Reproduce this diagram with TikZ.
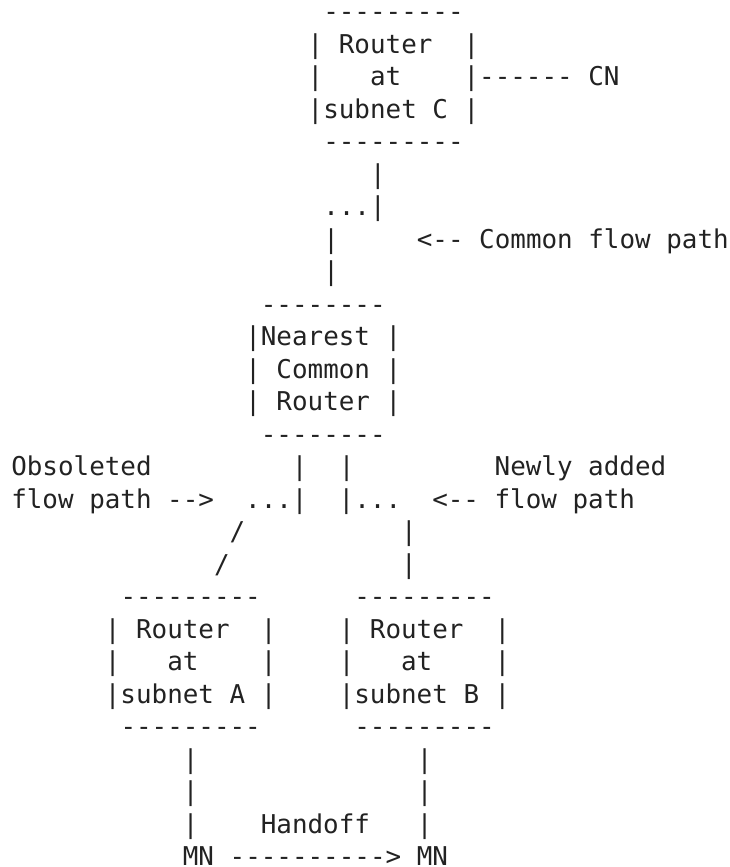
\documentclass[tikz,border=0pt]{standalone}
\usepackage{fontspec}
\setmonofont{DejaVu Sans Mono}
\definecolor{ink}{RGB}{34,34,34}
\tikzset{asc/.style={anchor=base west, inner sep=0pt, outer sep=0pt,
  font=\ttfamily\fontsize{25.9}{30}\selectfont, text=ink}}
\newcommand{\asciiline}[4]{\node[asc] (#1) at ({11.3+#2*15.6}, {-20.5-(#3-1)*32.5}) {#4};}
\begin{document}
\begin{tikzpicture}[x=1pt,y=1pt]
\useasboundingbox (0,0) rectangle (730,-867);
\frenchspacing
\asciiline{l1}{20}{1}{---------}
\asciiline{l2}{19}{2}{|\ Router\ \ |}
\asciiline{l3}{19}{3}{|\ \ \ at\ \ \ \ |------\ CN}
\asciiline{l4}{19}{4}{|subnet\ C\ |}
\asciiline{l5}{20}{5}{---------}
\asciiline{l6}{23}{6}{|}
\asciiline{l7}{20}{7}{...|}
\asciiline{l8}{20}{8}{|\ \ \ \ \ <--\ Common\ flow\ path}
\asciiline{l9}{20}{9}{|}
\asciiline{l10}{16}{10}{--------}
\asciiline{l11}{15}{11}{|Nearest\ |}
\asciiline{l12}{15}{12}{|\ Common\ |}
\asciiline{l13}{15}{13}{|\ Router\ |}
\asciiline{l14}{16}{14}{--------}
\asciiline{l15}{0}{15}{Obsoleted\ \ \ \ \ \ \ \ \ |\ \ |\ \ \ \ \ \ \ \ \ Newly\ added}
\asciiline{l16}{0}{16}{flow\ path\ -->\ \ ...|\ \ |...\ \ <--\ flow\ path}
\asciiline{l17}{14}{17}{/\ \ \ \ \ \ \ \ \ \ |}
\asciiline{l18}{13}{18}{/\ \ \ \ \ \ \ \ \ \ \ |}
\asciiline{l19}{7}{19}{---------\ \ \ \ \ \ ---------}
\asciiline{l20}{6}{20}{|\ Router\ \ |\ \ \ \ |\ Router\ \ |}
\asciiline{l21}{6}{21}{|\ \ \ at\ \ \ \ |\ \ \ \ |\ \ \ at\ \ \ \ |}
\asciiline{l22}{6}{22}{|subnet\ A\ |\ \ \ \ |subnet\ B\ |}
\asciiline{l23}{7}{23}{---------\ \ \ \ \ \ ---------}
\asciiline{l24}{11}{24}{|\ \ \ \ \ \ \ \ \ \ \ \ \ \ |}
\asciiline{l25}{11}{25}{|\ \ \ \ \ \ \ \ \ \ \ \ \ \ |}
\asciiline{l26}{11}{26}{|\ \ \ \ Handoff\ \ \ |}
\asciiline{l27}{11}{27}{MN\ ---------->\ MN}
\end{tikzpicture}
\end{document}
